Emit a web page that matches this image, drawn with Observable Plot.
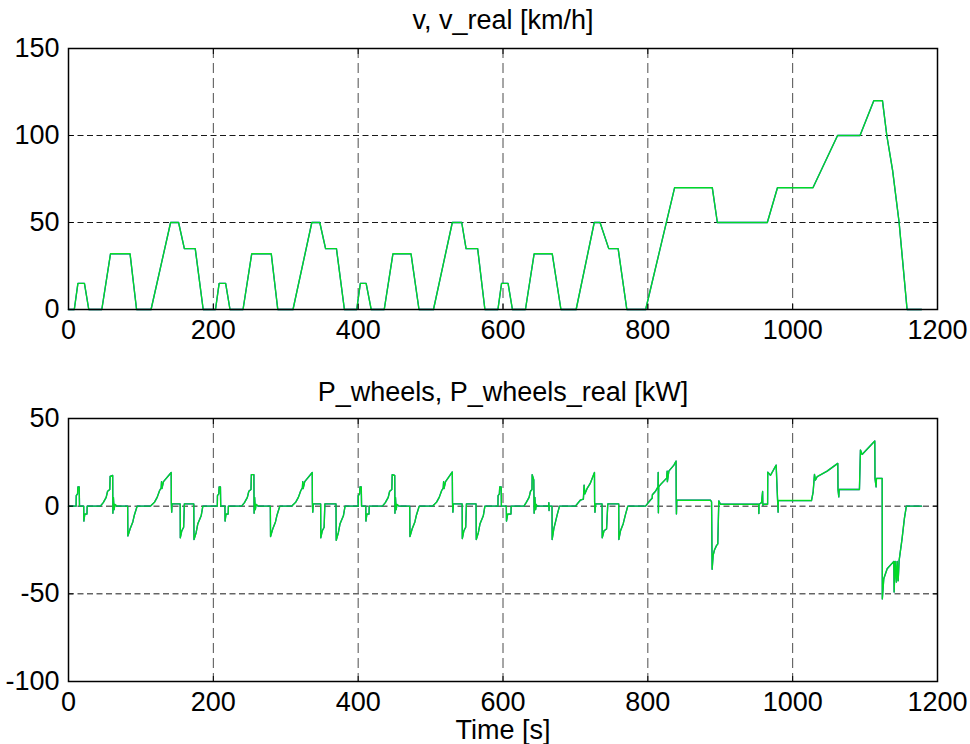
<!DOCTYPE html>
<html>
<head>
<meta charset="utf-8">
<script src="https://cdn.jsdelivr.net/npm/d3@7"></script>
<script src="https://cdn.jsdelivr.net/npm/@observablehq/plot@0.6"></script>
<style>
  html, body { margin: 0; padding: 0; background: #fff; }
  #chart { width: 970px; height: 744px; }
  #chart svg { display: block; }
</style>
</head>
<body>
<div id="chart"></div>
<script>
// ---- tick labels ----
const timeTicks = [0, 200, 400, 600, 800, 1000, 1200];
const speedTicks = [0, 50, 100, 150];
const powerTicks = [-100, -50, 0, 50];

// ---- titles ----
const speedTitle = "v, v_real [km/h]";
const powerTitle = "P_wheels, P_wheels_real [kW]";
const timeLabel = "Time [s]";

// ---- speed (v and v_real overlap) : breakpoints ----
const speedTime = [
  0, 8, 13, 22, 28, 46, 58, 85, 94, 114, 141, 152, 160, 175, 186,
  203, 208, 217, 223, 241, 253, 280, 289, 310, 336, 347, 355, 370, 381,
  398, 403, 411, 418, 436, 448, 473, 484, 504, 530, 543, 549, 565, 575,
  593, 598, 607, 613, 631, 643, 668, 680, 701, 726, 734, 746, 759, 771,
  797, 837, 889, 896, 965, 979, 1028, 1062, 1093, 1112, 1124, 1130, 1138, 1147, 1158, 1178
];
const speedKmh = [
  0, 0, 15, 15, 0, 0, 32, 32, 0, 0, 50, 50, 35, 35, 0,
  0, 15, 15, 0, 0, 32, 32, 0, 0, 50, 50, 35, 35, 0,
  0, 15, 15, 0, 0, 32, 32, 0, 0, 50, 50, 35, 35, 0,
  0, 15, 15, 0, 0, 32, 32, 0, 0, 50, 50, 35, 35, 0,
  0, 70, 70, 50, 50, 70, 70, 100, 100, 120, 120, 100, 80, 50, 0, 0
];

// ---- power at wheels (P_wheels and P_wheels_real overlap) ----
const powerTime = [
  0, 10.5, 10.7, 12.5, 13, 14.8, 15.2, 21, 21.2, 22.5, 25.5, 25.8,
  44, 48, 52, 54, 57, 57.5, 61, 61.3, 62, 63, 64, 67,
  81.7, 82, 85, 88.8, 91, 94.8,
  113, 118.8, 122.4, 125.7, 128, 128.5, 129, 131.2, 141.8, 142, 142.5, 143,
  154.2, 154.4, 156.5, 159, 160, 173, 173.3, 176.3, 178.6, 183.2, 185.5,
  205.5, 205.7, 207.5, 208, 209.8, 210.2, 216, 216.2, 217.5, 220.5, 220.8,
  239, 243, 247, 249, 252, 252.5, 256, 256.3, 257, 258, 259, 262,
  278.7, 279, 282, 285.8, 288, 291.8,
  308, 313.8, 317.4, 320.7, 323, 323.5, 324, 326.2, 336.6, 336.8, 337.3, 338,
  348.2, 348.4, 350.5, 353, 354, 369.4, 369.7, 372.7, 375, 379.6, 381.9,
  400, 400.2, 402, 402.5, 404.3, 404.7, 410.5, 410.7, 412, 415, 415.3,
  433.5, 437.5, 441.5, 443.5, 446.5, 447, 450.5, 450.8, 451.5, 452.5, 453.5, 456.5,
  471.2, 471.5, 474.5, 478.3, 480.5, 484.3,
  502.5, 508.3, 511.9, 515.2, 517.5, 518, 518.5, 520.7, 530, 530.3, 530.8, 531.5,
  543.6, 543.8, 546, 548.5, 549.5, 562.8, 563.1, 566, 568.3, 572.8, 575,
  593, 593.2, 595, 595.5, 597.5, 597.8, 604.6, 604.8, 606.5, 611, 611.3,
  628.8, 632, 636, 638, 640, 640.3, 642.5, 643, 644, 645, 646, 647,
  663, 663.3, 663.6, 664, 667.7, 667.9, 670.2, 672.5, 674.8, 678,
  700, 707, 711, 712, 713, 716, 720.5, 726.3, 726.5, 727, 728,
  736.8, 737, 739.5, 743, 744.7, 759.8, 760, 762.3, 766, 769, 772.3,
  796.8, 803.6, 806, 806.3, 810.6, 814, 814.3, 814.6, 815, 817.5, 826, 826.7, 827, 829, 836, 839,
  839.2, 839.5, 840, 886.5, 888, 888.8, 890.2, 892, 894.8, 896.6, 898, 900.3,
  953, 953.3, 953.6, 957, 958.5, 958.8, 960, 965.4, 965.6, 969.4, 977.2, 978.6, 979.9, 980.2,
  1026, 1028.3, 1030.1, 1031.5, 1033.8, 1047.6, 1062.3, 1062.6, 1063.7, 1064.2, 1092.2,
  1093.6, 1095.9, 1113.4, 1113.7, 1115.2, 1115.7, 1123.6, 1123.8,
  1125.8, 1130.5, 1139.7, 1140.1, 1141.5, 1143.3, 1144.3, 1145.7, 1147, 1151.1, 1154.3, 1157, 1178
];
const powerKw = [
  0, 0, 6, 7, 11, 11, 0, 0, -8.5, -4.5, -4.5, 0,
  0, 2, 5, 8.5, 9.5, 17, 17.5, -4, 5, -2, 1, 0,
  0, -17, -13, -9, -5, 0,
  0, 2.3, 5, 8.8, 10.5, 14, 10, 14, 19.2, 2, -3.4, 1.3,
  1.3, -18, -14, -12, 1.3, 1.3, -19, -15, -10, -5.5, 0,
  0, 6, 7, 11, 11, 0, 0, -8.5, -4.5, -4.5, 0,
  0, 2, 5, 8.5, 9.5, 18, 18, -4, 5, -2, 1, 0,
  0, -17.3, -13, -9, -5, 0,
  0, 2.3, 5, 8.8, 10.5, 14, 10, 14, 19.2, 2, -3.4, 1.3,
  1.3, -18, -14, -12, 1.3, 1.3, -19.5, -15, -10, -5.5, 0,
  0, 6, 7, 11, 11, 0, 0, -8.5, -4.5, -4.5, 0,
  0, 2, 5, 8.5, 9.5, 18, 17.5, -4, 5, -2, 1, 0,
  0, -17.3, -13, -9, -5, 0,
  0, 2.3, 5, 8.8, 10.5, 14, 10, 14, 19.5, 2, -3.4, 1.3,
  1.3, -18.5, -14, -12, 1.3, 1.3, -19, -15, -10, -5.5, 0,
  0, 6, 7, 11, 11, 0, 0, -8.5, -4.5, -4.5, 0,
  0, 2, 5, 8.5, 9.5, 18, 15, -4, 5, -2, 1, 0,
  0, 2, -2.5, 0, 0, -19, -12.8, -9, -5, 0,
  0, 3.5, 4, 12, 7, 10, 13, 19.2, 2.5, -3.5, 1.3,
  1.3, -18, -14, -13, 1.3, 1.3, -19, -14, -10, -5, 0,
  0, 3.5, 4.5, 6.5, 8.5, 11, 19.2, -3.8, 11, 12.3, 16, 20, 14, 20, 23.4, 25.7,
  3.4, -4.4, 3.4, 3.4, 2.5, -36, -28, -25, -22.5, -21.5, 3, 1.1,
  1.1, -4.2, 1.1, 2, 8.4, 0.5, 1.1, 1.1, 19.4, 17.6, 23.4, 9, -3.4, 3.2,
  3.2, 8.2, 18.1, 14.9, 16.8, 20, 24.4, 9.5, 5.3, 9.5, 9.5,
  32, 29.5, 37.2, 15.8, 11, 15.8, 15.8, -52.9,
  -41.4, -35.7, -31.5, -49, -31.5, -43.3, -31.5, -42.5, -31, -18.5, -7, 0, 0
];

const speedRows = speedTime.map((t, i) => ({t, v: speedKmh[i]}));
const powerRows = powerTime.map((t, i) => ({t, p: powerKw[i]}));

const FONT = "'Liberation Sans', Arial, sans-serif";
const FS = 27;

function panel({rows, yField, yDomain, yTicks, title, showTimeLabel}) {
  return Plot.plot({
    width: 970,
    height: 372,
    marginLeft: 68,
    marginRight: 33,
    marginTop: showTimeLabel ? 46 : 48,
    marginBottom: 63,
    x: {domain: [0, 1200], label: null},
    y: {domain: yDomain, label: null},
    style: {fontFamily: FONT, fontSize: FS + "px", background: "#fff", color: "#000", overflow: "visible"},
    marks: [
      Plot.gridX(timeTicks, {stroke: "#000", strokeOpacity: 0.7, strokeDasharray: "10,5"}),
      Plot.gridY(yTicks, {stroke: "#000", strokeOpacity: 0.9, strokeDasharray: "6,3.5"}),
      Plot.line(rows, {x: "t", y: yField, stroke: "#0000ff", strokeWidth: 1.3}),
      Plot.line(rows, {x: "t", y: yField, stroke: "#00ff00", strokeWidth: 1.4, strokeOpacity: 0.85}),
      Plot.frame({stroke: "#000", strokeWidth: 1.5}),
      Plot.axisX(timeTicks, {anchor: "bottom", tickSize: -5, tickFormat: () => ""}),
      Plot.axisX(timeTicks, {anchor: "top", tickSize: -5, tickFormat: () => ""}),
      Plot.axisY(yTicks, {anchor: "left", tickSize: -5, tickFormat: () => ""}),
      Plot.axisY(yTicks, {anchor: "right", tickSize: -5, tickFormat: () => ""}),
      Plot.axisX(timeTicks, {anchor: "bottom", tickSize: 0, tickPadding: 10, fontSize: FS, tickFormat: d => String(d)}),
      Plot.axisY(yTicks, {anchor: "left", tickSize: 0, tickPadding: 9, fontSize: FS, tickFormat: d => String(d)}),
      Plot.text([title], {frameAnchor: "top", lineAnchor: "middle", dy: showTimeLabel ? -26 : -28, fontSize: FS, fill: "#000"}),
      ...(showTimeLabel ? [Plot.text([timeLabel], {frameAnchor: "bottom", lineAnchor: "middle", dy: 49, fontSize: FS, fill: "#000"})] : [])
    ]
  });
}

const el = document.getElementById("chart");
el.append(panel({rows: speedRows, yField: "v", yDomain: [0, 150], yTicks: speedTicks, title: speedTitle, showTimeLabel: false}));
el.append(panel({rows: powerRows, yField: "p", yDomain: [-100, 50], yTicks: powerTicks, title: powerTitle, showTimeLabel: true}));
</script>
</body>
</html>
